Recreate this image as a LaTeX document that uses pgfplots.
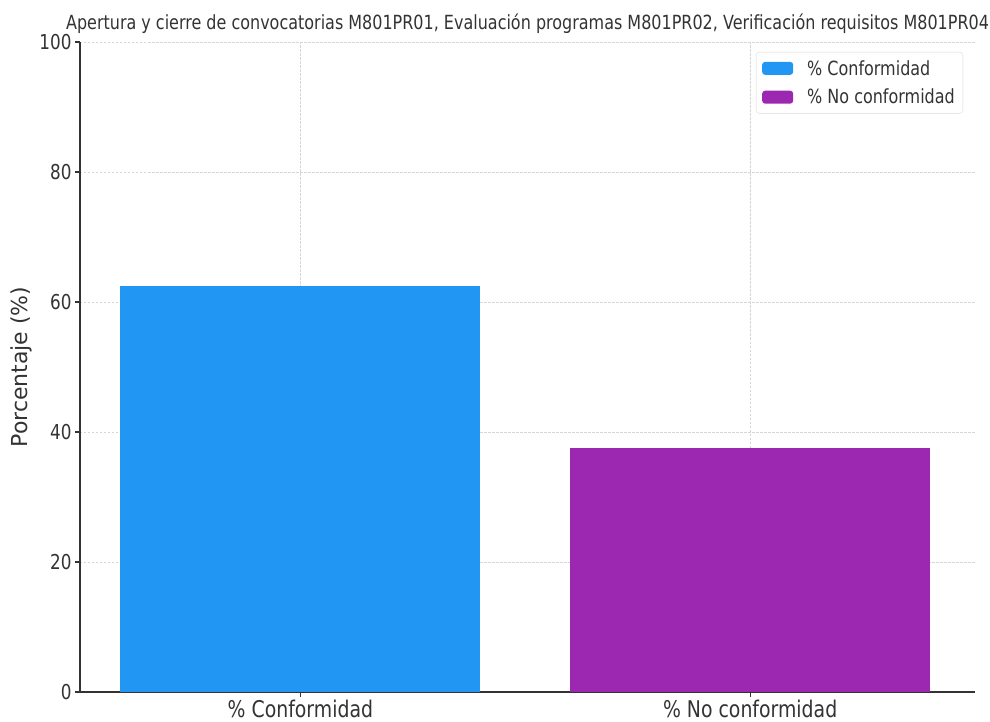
\documentclass[border=0pt]{standalone}
\usepackage{pgfplots}
\pgfplotsset{compat=1.18}
\usepackage{fontspec}
\setmainfont{DejaVu Sans}[FakeStretch=0.82]
\newfontfamily\plainfont{DejaVu Sans}
\definecolor{cblue}{HTML}{2196F3}
\definecolor{cpurple}{HTML}{9C27B0}
\definecolor{gridc}{HTML}{D6D6D6}
\definecolor{txt}{HTML}{333333}
\begin{document}
\begin{tikzpicture}
\begin{axis}[
  scale only axis,
  width=895pt, height=650pt,
  xmin=-0.49, xmax=1.5,
  ymin=0, ymax=100,
  xtick={0,1},
  xticklabels={\% Conformidad, \% No conformidad},
  ytick={0,20,40,60,80,100},
  /pgf/number format/assume math mode=true,
  xticklabel style={font=\fontsize{23}{26}\selectfont, text=txt, anchor=base, yshift=-20pt},
  yticklabel style={font=\fontsize{20.5}{24}\selectfont, text=txt},
  ylabel={Porcentaje (\%)},
  ylabel style={font=\plainfont\fontsize{22}{26}\selectfont, text=txt},
  title={Apertura y cierre de convocatorias M801PR01, Evaluación programas M801PR02, Verificación requisitos M801PR04},
  title style={font=\fontsize{19.5}{22}\selectfont, text=txt, at={(0.5,1)}, anchor=base, yshift=6pt},
  axis x line*=bottom, axis y line*=left,
  axis line style={txt, line width=1.4pt},
  tick align=outside,
  major tick length=5pt,
  tick style={txt, line width=1.1pt},
  grid=major,
  grid style={gridc, dash pattern=on 2.5pt off 1.5pt, line width=0.7pt},
  legend style={at={(1,1)}, xshift=-12pt, yshift=-10pt, anchor=north east, font=\fontsize{19.5}{22}\selectfont,
    draw=black!15, rounded corners=3pt, row sep=8.5pt, inner xsep=6pt, inner ysep=6pt, text=txt},
  legend cell align=left,
  legend image code/.code={\fill[#1] (0pt,-6.5pt) rectangle (31pt,6.5pt); \path (43pt,0pt);},
  bar width=360pt,
]
\addplot[ybar, fill=cblue, draw=none, bar shift=0pt] coordinates {(0,62.5)};
\addlegendentry{\% Conformidad}
\addplot[ybar, fill=cpurple, draw=none, bar shift=0pt] coordinates {(1,37.5)};
\addlegendentry{\% No conformidad}
\end{axis}
\pgfresetboundingbox
\path ([shift={(-80pt,-29pt)}]current axis.south west) rectangle ([shift={(15pt,42pt)}]current axis.north east);
\end{tikzpicture}
\end{document}
